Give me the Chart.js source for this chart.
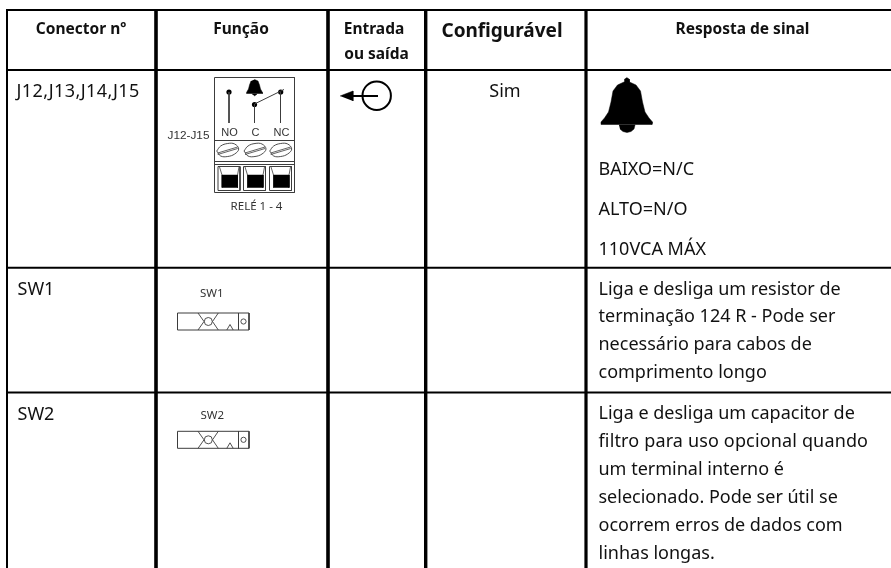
<!DOCTYPE html>
<html>
<head>
<meta charset="utf-8">
<style>
  body { margin: 0; background: #fff; }
  canvas { display: block; }
</style>
<script src="https://cdn.jsdelivr.net/npm/chart.js@4"></script>
</head>
<body>
<canvas id="tabla" width="891" height="568"></canvas>
<script>
const lineasColumna = [7, 156, 328, 425.7, 586];
const anchosColumna = [2, 3.6, 3.6, 3.4, 3.2];
const lineasFila = [10, 70, 267.7, 392.6];

const encabezados = [
  ['Conector nº', 81, 33.5, 15.5],
  ['Função', 241, 33.5, 15.5],
  ['Entrada', 374, 33.5, 15.5],
  ['ou saída', 376.5, 58.5, 15.5],
  ['Configurável', 502, 36.5, 19],
  ['Resposta de sinal', 742.5, 33.5, 15.5]
];
const celdasTexto = [
  ['J12,J13,J14,J15', 16.5, 97, '0.45px'],
  ['SW1', 17.5, 295],
  ['SW2', 17.5, 419.5],
  ['BAIXO=N/C', 598.5, 175],
  ['ALTO=N/O', 598.5, 215],
  ['110VCA MÁX', 598.5, 255],
  ['Liga e desliga um resistor de', 598.5, 295],
  ['terminação 124 R - Pode ser', 598.5, 322],
  ['necessário para cabos de', 598.5, 350],
  ['comprimento longo', 598.5, 378],
  ['Liga e desliga um capacitor de', 598.5, 419],
  ['filtro para uso opcional quando', 598.5, 447, '0.15px'],
  ['um terminal interno é', 598.5, 474.5],
  ['selecionado. Pode ser útil se', 598.5, 502.5],
  ['ocorrem erros de dados com', 598.5, 530.5],
  ['linhas longas.', 598.5, 558.5]
];
const celdasCentradas = [['Sim', 505, 97]];
const rotulosRele = [
  ['NO', 229.5, 136, 11],
  ['C', 255.5, 136, 11],
  ['NC', 281.5, 136, 11],
  ['J12-J15', 188.5, 138.5, 11.8]
];
const rotulosDiagrama = [
  ['RELÉ 1 - 4', 256.5, 210, 11.5],
  ['SW1', 211.7, 297, 11.5],
  ['SW2', 212.2, 419.3, 11.5]
];

const campanaGrande = [[626.7,77.5],[629,79],[629.5,82],[636,85],[640.5,91],[642.5,102],[645,112],[649,118],[652.5,122],[652,124.5],[601.5,124.5],[601,122],[604.5,118],[608.5,112],[611,102],[613,91],[617.5,85],[624,82],[624.5,79]];
const badajoGrande = [[619,125],[635,125],[634,129],[631,131.5],[627,132.5],[623,131.5],[620,129]];
const campanaRele = [[254.5,79.5],[258,81],[259.5,85],[260.5,89],[262.5,92.5],[262.5,93.5],[246.5,93.5],[246.5,92.5],[248.5,89],[249.5,85],[251,81]];
const badajoRele = [[252,94],[257,94],[254.5,96]];
const flecha = [[340,96],[353,91],[353,101]];
const centrosTornillo = [227.7, 255, 280.7];
const contornoTornillo = [[-11,1],[-7,-4],[0,-6.5],[7,-6],[11,-1],[7,4],[0,6.5],[-7,6],[-11,1]];
const columnasBorne = [218, 243.5, 269.5];
const filasInterruptor = [313, 431.3];

const NEGRO = '#000';
const GRIS = '#3c3c3c';

function trazo(puntos, color, ancho, tension = 0) {
  return {
    data: puntos.map(([x, y]) => ({ x, y })),
    showLine: true,
    borderColor: color,
    borderWidth: ancho,
    pointRadius: 0,
    tension
  };
}

function relleno(puntos, color) {
  return {
    data: puntos.map(([x, y]) => ({ x, y })),
    showLine: true,
    borderColor: color,
    backgroundColor: color,
    borderWidth: 0.5,
    pointRadius: 0,
    fill: 'shape',
    tension: 0
  };
}

function punto(x, y, radio, fondo, color, ancho) {
  return {
    data: [{ x, y }],
    showLine: false,
    pointRadius: radio,
    pointBackgroundColor: fondo,
    pointBorderColor: color,
    pointBorderWidth: ancho
  };
}

function dibujoRele() {
  const ds = [
    trazo([[214.5,77.5],[294.5,77.5],[294.5,192.5],[214.5,192.5],[214.5,77.5]], GRIS, 1),
    trazo([[214.5,140.5],[294.5,140.5]], GRIS, 1),
    trazo([[214.5,161.5],[294.5,161.5]], GRIS, 1),
    trazo([[214.5,164.5],[294.5,164.5]], GRIS, 1),
    trazo([[229,92],[229,123]], GRIS, 1),
    trazo([[254.5,104],[254.5,123]], GRIS, 1),
    trazo([[280.5,92],[280.5,123]], GRIS, 1),
    trazo([[254.5,104],[284,89.5]], GRIS, 1),
    punto(229, 92, 2.6, NEGRO, NEGRO, 0),
    punto(254.5, 104.5, 2.6, NEGRO, NEGRO, 0),
    punto(280.7, 92, 2.6, NEGRO, NEGRO, 0),
    relleno(campanaRele, NEGRO),
    relleno(badajoRele, NEGRO)
  ];
  centrosTornillo.forEach(cx => {
    ds.push(trazo(contornoTornillo.map(([dx, dy]) => [cx + dx, 150 + dy]), GRIS, 0.9, 0.4));
    ds.push(trazo([[cx - 10, 153], [cx + 10, 147]], GRIS, 0.8));
    ds.push(trazo([[cx - 10, 154.5], [cx + 10, 148.5]], GRIS, 0.8));
  });
  columnasBorne.forEach(x => {
    ds.push(trazo([[x,166.5],[x+22,166.5],[x+22,190.5],[x,190.5],[x,166.5]], GRIS, 1));
    ds.push(relleno([[x+4,175],[x+19.5,175],[x+19.5,187.5],[x+4,187.5]], NEGRO));
    ds.push(trazo([[x+1.5,167],[x+4,175],[x+4,187.5]], GRIS, 0.8));
    ds.push(trazo([[x+21,167],[x+19.5,175],[x+19.5,187.5]], GRIS, 0.8));
  });
  return ds;
}

function dibujoInterruptor(y) {
  const b = y + 17, m = y + 8.5;
  return [
    trazo([[177.5,y],[249,y],[249,b],[177.5,b],[177.5,y]], GRIS, 1),
    trazo([[238.5,y],[238.5,b]], GRIS, 1),
    trazo([[198,y],[204,m],[198,b]], GRIS, 0.9),
    trazo([[218.3,y],[212.5,m],[218.3,b]], GRIS, 0.9),
    trazo([[226.8,b],[230,y+11.5],[233.2,b]], GRIS, 0.9),
    punto(208.3, m, 4, '#fff', GRIS, 0.9),
    punto(243.5, m, 2.6, '#fff', GRIS, 0.9)
  ];
}

const reticula = [
  ...lineasFila.map(y => trazo([[6, y], [891, y]], NEGRO, 2)),
  ...lineasColumna.map((x, i) => trazo([[x, 9], [x, 568]], NEGRO, anchosColumna[i]))
];

const textoTabla = {
  id: 'textoTabla',
  afterDatasetsDraw(chart) {
    const { ctx, scales: { x, y } } = chart;
    const poner = (lista, alinear, fuente, color) => lista.forEach(fila => {
      ctx.textAlign = alinear;
      ctx.fillStyle = color;
      ctx.font = fuente(fila[3]);
      ctx.letterSpacing = typeof fila[3] === 'string' ? fila[3] : '0px';
      ctx.fillText(fila[0], x.getPixelForValue(fila[1]), y.getPixelForValue(fila[2]));
    });
    ctx.save();
    ctx.textBaseline = 'alphabetic';
    poner(encabezados, 'center', t => `bold ${t}px "Noto Sans"`, '#111');
    poner(celdasTexto, 'left', () => '18px "Noto Sans"', '#111');
    poner(celdasCentradas, 'center', () => '18px "Noto Sans"', '#111');
    poner(rotulosRele, 'center', t => `${t}px "Liberation Sans"`, '#333');
    poner(rotulosDiagrama, 'center', t => `${t}px "Noto Sans"`, '#333');
    ctx.restore();
  }
};

new Chart(document.getElementById('tabla').getContext('2d'), {
  type: 'scatter',
  data: {
    datasets: [
      ...reticula,
      ...dibujoRele(),
      ...filasInterruptor.flatMap(dibujoInterruptor),
      trazo([[346,96],[378,96]], NEGRO, 2),
      relleno(flecha, NEGRO),
      punto(376.7, 95.7, 14.2, 'rgba(0,0,0,0)', NEGRO, 2),
      relleno(campanaGrande, NEGRO),
      relleno(badajoGrande, NEGRO)
    ]
  },
  options: {
    responsive: false,
    animation: false,
    events: [],
    layout: { padding: 0, autoPadding: false },
    plugins: { legend: { display: false }, tooltip: { enabled: false } },
    scales: {
      x: { type: 'linear', min: 0, max: 891, display: false },
      y: { type: 'linear', min: 0, max: 568, reverse: true, display: false }
    }
  },
  plugins: [textoTabla]
});
</script>
</body>
</html>
